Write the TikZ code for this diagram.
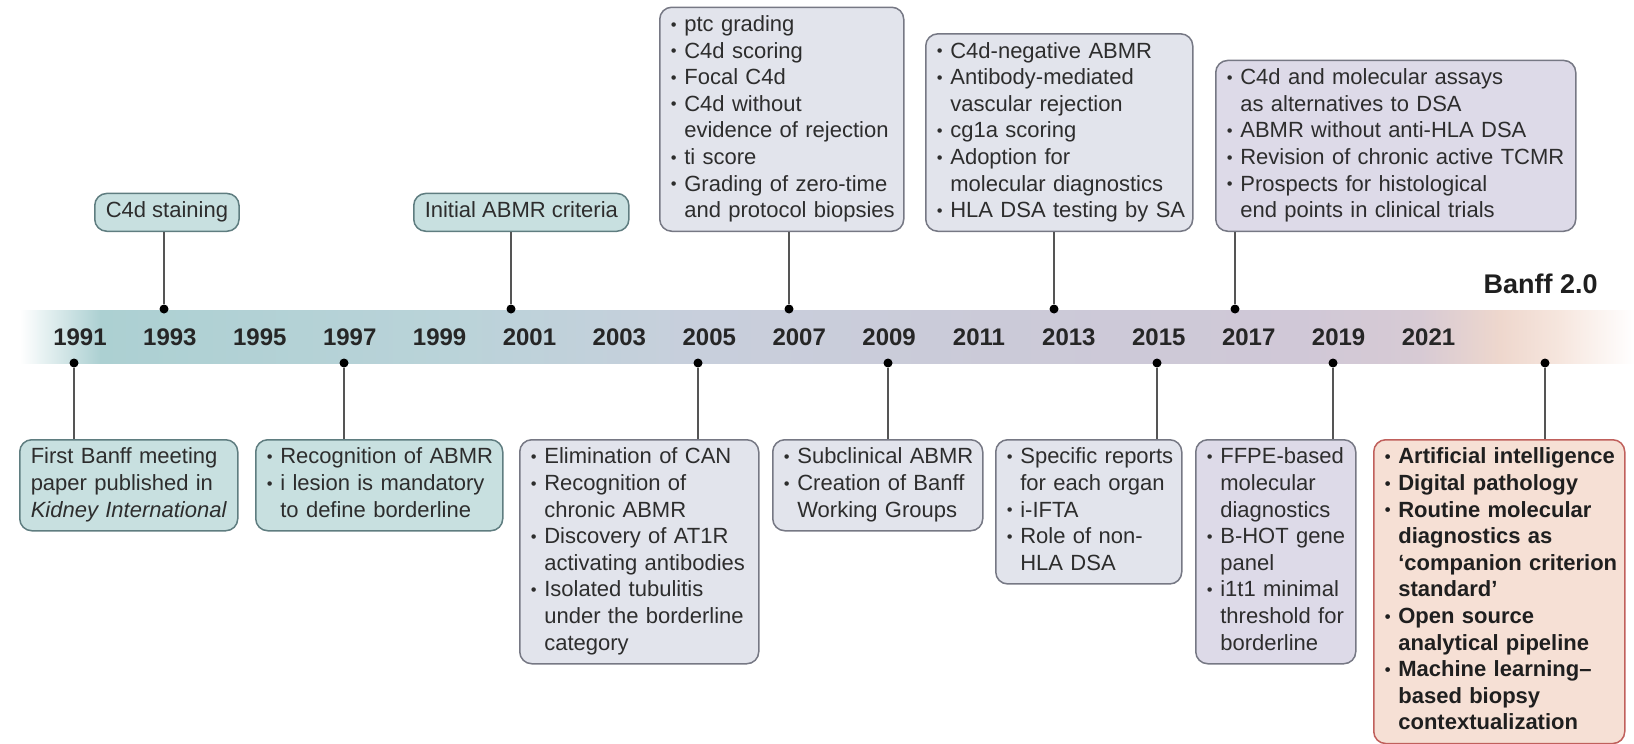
\documentclass[tikz,border=0pt]{standalone}
\usepackage{fontspec}
\setmainfont{Liberation Sans}
\usepackage{tikz}
\usetikzlibrary{positioning,calc}

\definecolor{tealfill}{RGB}{200,224,224}
\definecolor{tealdraw}{RGB}{95,125,128}
\definecolor{greyfill}{RGB}{226,228,236}
\definecolor{greydraw}{RGB}{118,120,132}
\definecolor{lilacfill}{RGB}{221,218,232}
\definecolor{peachfill}{RGB}{246,224,213}
\definecolor{peachdraw}{RGB}{192,96,92}
\definecolor{txt}{RGB}{45,45,45}
\definecolor{linegrey}{RGB}{85,85,85}
\definecolor{bandB}{RGB}{172,208,210}
\definecolor{bandC}{RGB}{186,211,217}
\definecolor{bandD}{RGB}{200,207,220}
\definecolor{bandE}{RGB}{203,202,216}
\definecolor{bandF}{RGB}{208,200,215}
\definecolor{bandG}{RGB}{215,202,212}
\definecolor{bandH}{RGB}{238,215,205}
\definecolor{bandI}{RGB}{246,230,222}

\newcommand{\bit}[1]{\mbox{\makebox[6.8pt][l]{\raisebox{0.12ex}{\scalebox{0.75}{\textbullet}}}#1}}
\newcommand{\cnt}[1]{\mbox{\hspace*{6.8pt}#1}}

\begin{document}
\begin{tikzpicture}[x=0.5pt, y=-0.5pt,
  box/.style={rounded corners=6pt, line width=0.75pt, inner xsep=5.5pt, inner ysep=2.8pt,
    align=left, text=txt, font=\fontsize{11}{13.3}\selectfont,
    execute at begin node=\strut, execute at end node=\strut},
  tealbox/.style={box, fill=tealfill, draw=tealdraw},
  greybox/.style={box, fill=greyfill, draw=greydraw},
  lilacbox/.style={box, fill=lilacfill, draw=greydraw},
  peachbox/.style={box, fill=peachfill, draw=peachdraw, text=black!88,
    font=\bfseries\fontsize{11}{13.3}\selectfont},
  year/.style={font=\bfseries\fontsize{12}{14}\selectfont, text=black!85},
  dot/.style={circle, fill=black, inner sep=0pt, minimum size=4.5pt},
  link/.style={draw=linegrey, line width=1pt}]
\useasboundingbox (0,0) rectangle (1634,744);

%Band
\foreach \xa/\ca/\xb/\cb in {20/white/100/bandB, 100/bandB/450/bandC, 450/bandC/700/bandD,
    700/bandD/1000/bandE, 1000/bandE/1300/bandF, 1300/bandF/1420/bandG,
    1420/bandG/1500/bandH, 1500/bandH/1560/bandI, 1560/bandI/1634/white}
  \shade[left color=\ca, right color=\cb] (\xa,310) rectangle (\xb+0.6,363);
\foreach \i in {0,...,15}{
  \pgfmathtruncatemacro{\yr}{1991+2*\i}
  \node[year] (y\yr) at (80+89.9*\i,337) {\yr};
}
\node[font=\bfseries\fontsize{13.5}{15}\selectfont, anchor=east, inner sep=0pt, text=black!88] (banff) at (1598,284) {Banff 2.0};

%Upper boxes
\node[tealbox, anchor=south west] (b1993) at (94,232) {C4d staining};
\node[tealbox, anchor=south west] (b2001) at (413,232) {Initial ABMR criteria};
\node[greybox, anchor=south west, text width=111pt] (b2007) at (659,232) {\bit{ptc grading}\\
\bit{C4d scoring}\\
\bit{Focal C4d}\\
\bit{C4d without}\\
\cnt{evidence of rejection}\\
\bit{ti score}\\
\bit{Grading of zero-time}\\
\cnt{and protocol biopsies}};
\node[greybox, anchor=south west, text width=122.5pt] (b2013) at (925,232) {\bit{C4d-negative ABMR}\\
\bit{Antibody-mediated}\\
\cnt{vascular rejection}\\
\bit{cg1a scoring}\\
\bit{Adoption for}\\
\cnt{molecular diagnostics}\\
\bit{HLA DSA testing by SA}};
\node[lilacbox, anchor=south west, text width=169pt] (b2017) at (1215,232) {\bit{C4d and molecular assays}\\
\cnt{as alternatives to DSA}\\
\bit{ABMR without anti-HLA DSA}\\
\bit{Revision of chronic active TCMR}\\
\bit{Prospects for histological}\\
\cnt{end points in clinical trials}};

%Lower boxes
\node[tealbox, anchor=north west, text width=98pt] (b1991) at (19,439) {\mbox{First Banff meeting}\\
\mbox{paper published in}\\
\mbox{\textit{Kidney International}}};
\node[tealbox, anchor=north west, text width=112.5pt] (b1997) at (255,439) {\bit{Recognition of ABMR}\\
\bit{i lesion is mandatory}\\
\cnt{to define borderline}};
\node[greybox, anchor=north west, text width=108.5pt] (b2005) at (519,439) {\bit{Elimination of CAN}\\
\bit{Recognition of}\\
\cnt{chronic ABMR}\\
\bit{Discovery of AT1R}\\
\cnt{activating antibodies}\\
\bit{Isolated tubulitis}\\
\cnt{under the borderline}\\
\cnt{category}};
\node[greybox, anchor=north west, text width=94pt] (b2009) at (772,439) {\bit{Subclinical ABMR}\\
\bit{Creation of Banff}\\
\cnt{Working Groups}};
\node[greybox, anchor=north west, text width=82pt] (b2015) at (995,439) {\bit{Specific reports}\\
\cnt{for each organ}\\
\bit{i-IFTA}\\
\bit{Role of non-}\\
\cnt{HLA DSA}};
\node[lilacbox, anchor=north west, text width=69pt] (b2019) at (1195,439) {\bit{FFPE-based}\\
\cnt{molecular}\\
\cnt{diagnostics}\\
\bit{B-HOT gene}\\
\cnt{panel}\\
\bit{i1t1 minimal}\\
\cnt{threshold for}\\
\cnt{borderline}};
\node[peachbox, anchor=north west, text width=114.5pt] (b2023) at (1373,439) {\bit{Artificial intelligence}\\
\bit{Digital pathology}\\
\bit{Routine molecular}\\
\cnt{diagnostics as}\\
\cnt{‘companion criterion}\\
\cnt{standard’}\\
\bit{Open source}\\
\cnt{analytical pipeline}\\
\bit{Machine learning–}\\
\cnt{based biopsy}\\
\cnt{contextualization}};

%Links
\foreach \yr/\xx in {1993/164, 2001/511, 2007/789, 2013/1054, 2017/1235}{
  \node[dot] (d\yr) at (\xx,309) {};
  \draw[link] (d\yr) -- (d\yr |- b\yr.south);
}
\foreach \yr/\xx in {1991/74, 1997/344, 2005/698, 2009/888, 2015/1157, 2019/1333, 2023/1545}{
  \node[dot] (d\yr) at (\xx,363) {};
  \draw[link] (d\yr) -- (d\yr |- b\yr.north);
}
\end{tikzpicture}
\end{document}
